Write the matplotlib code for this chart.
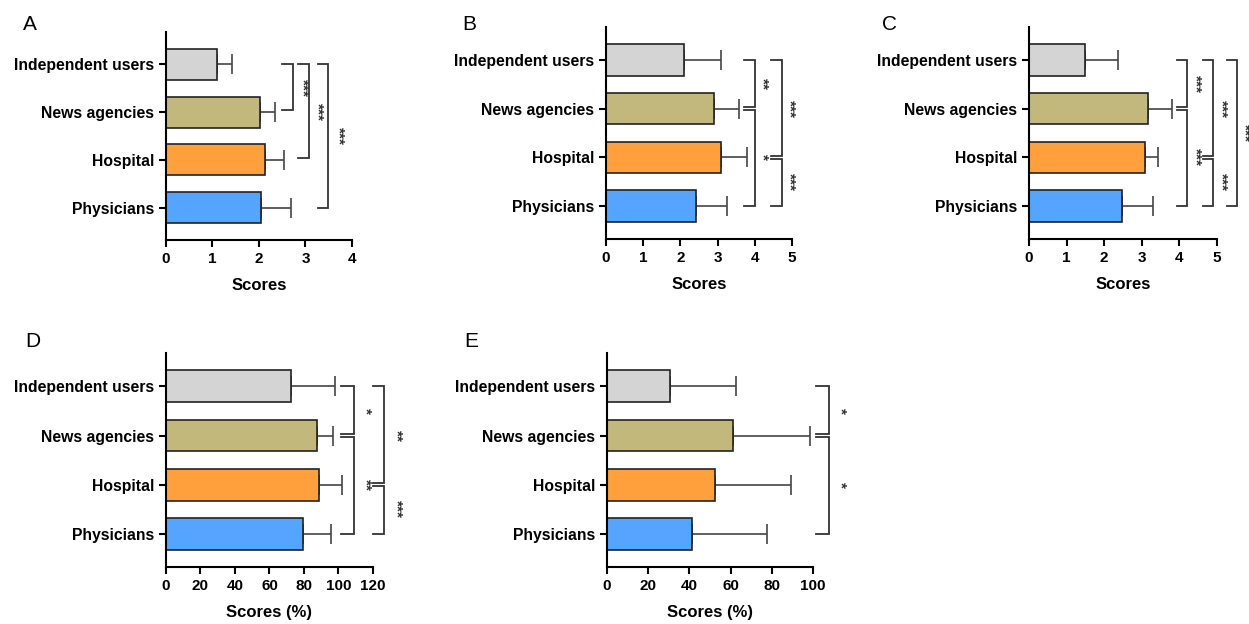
"""Five-panel horizontal bar chart of scores by source, with significance brackets."""

import matplotlib.pyplot as plt
import numpy as np

plt.rcParams["font.family"] = ["Liberation Sans", "DejaVu Sans"]

CATEGORIES = ["Independent users", "News agencies", "Hospital", "Physicians"]
COLORS = ["#d4d4d4", "#c2b87c", "#ffa03c", "#55a4ff"]

# means and (upper) error lengths
A_MEAN = [1.10, 2.02, 2.14, 2.04]
A_ERR = [0.33, 0.32, 0.40, 0.65]
B_MEAN = [2.10, 2.91, 3.08, 2.43]
B_ERR = [1.00, 0.66, 0.71, 0.83]
C_MEAN = [1.49, 3.16, 3.08, 2.48]
C_ERR = [0.88, 0.65, 0.36, 0.83]
D_MEAN = [72.4, 87.8, 88.8, 79.5]
D_ERR = [25.8, 9.1, 13.3, 16.0]
E_MEAN = [30.4, 61.2, 52.6, 41.4]
E_ERR = [32.1, 37.5, 36.6, 36.1]

# significance comparisons: (first, last, stars)
A_SIG = [(0, 1, "***"), (0, 2, "***"), (0, 3, "***")]
B_SIG = [(0, 1, "**"), (1, 3, "*"), (0, 2, "***"), (2, 3, "***")]
C_SIG = [(0, 1, "***"), (1, 3, "***"), (0, 2, "***"), (2, 3, "***"), (0, 3, "***")]
D_SIG = [(0, 1, "*"), (1, 3, "**"), (0, 2, "**"), (2, 3, "***")]
E_SIG = [(0, 1, "*"), (1, 3, "*")]

# bracket x placement per comparison: (tick start, vertical line, star text)
A_BX = [(2.49, 2.73, 2.93), (2.84, 3.08, 3.25), (3.26, 3.48, 3.70)]
B_BX = [(3.70, 4.0, 4.2), (3.70, 4.0, 4.2), (4.44, 4.74, 4.94), (4.44, 4.74, 4.94)]
C_BX = [(3.93, 4.19, 4.42), (3.93, 4.19, 4.42), (4.63, 4.9, 5.13),
        (4.63, 4.9, 5.13), (5.26, 5.54, 5.72)]
D_BX = [(101.7, 109, 115.5), (101.7, 109, 115.5), (120, 126.2, 133.5), (120, 126.2, 133.5)]
E_BX = [(101.3, 107.8, 113.5), (101.3, 107.8, 113.5)]

LINE = "#333333"


def bracket(ax, i, j, stars, bx):
    x0, x1, xt = bx
    # nudge ends apart where two brackets meet on the same bar
    y0 = i + (0.035 if i > 0 else 0)
    y1 = j - (0.035 if j < 3 else 0)
    ax.plot([x0, x1, x1, x0], [y0, y0, y1, y1], color=LINE, lw=1.3,
            clip_on=False, solid_joinstyle="miter")
    ax.text(xt, (i + j) / 2, stars, rotation=270, ha="center", va="center",
            fontsize=11, fontweight="bold", color=LINE, clip_on=False)


def panel(fig, rect, means, errs, sig, bxs, xmax, step, xlabel):
    ax = fig.add_axes(rect)
    y = np.arange(len(CATEGORIES))
    ax.barh(y, means, height=0.65, color=COLORS, edgecolor="#222222", lw=1.2,
            zorder=2)
    ax.errorbar(means, y, xerr=[np.zeros(len(errs)), errs], fmt="none",
                ecolor="#444444", elinewidth=1.2, capsize=7, capthick=1.2, zorder=1)
    for (i, j, stars), bx in zip(sig, bxs):
        bracket(ax, i, j, stars, bx)

    ax.set_ylim(3.68, -0.68)
    ax.set_xlim(0, xmax)
    ax.set_yticks(y, CATEGORIES, fontsize=11.3, fontweight="bold")
    ax.set_xticks(np.arange(0, xmax + step / 2, step))
    ax.tick_params(axis="x", labelsize=11, width=1.5, length=5)
    ax.tick_params(axis="y", width=1.5, length=5)
    for lab in ax.get_xticklabels():
        lab.set_fontweight("bold")
    ax.set_xlabel(xlabel, fontsize=12, fontweight="bold", labelpad=9)
    for s in ("top", "right"):
        ax.spines[s].set_visible(False)
    for s in ("left", "bottom"):
        ax.spines[s].set_linewidth(1.5)
    return ax


def main():
    fig = plt.figure(figsize=(12.49, 6.24), dpi=100)

    panel(fig, [0.1329, 0.6154, 0.1489, 0.3333], A_MEAN, A_ERR, A_SIG, A_BX,
          4, 1, "Scores")
    panel(fig, [0.4852, 0.6170, 0.1489, 0.3397], B_MEAN, B_ERR, B_SIG, B_BX,
          5, 1, "Scores")
    panel(fig, [0.8239, 0.6170, 0.1505, 0.3397], C_MEAN, C_ERR, C_SIG, C_BX,
          5, 1, "Scores")
    panel(fig, [0.1329, 0.0913, 0.1657, 0.3429], D_MEAN, D_ERR, D_SIG, D_BX,
          120, 20, "Scores (%)")
    panel(fig, [0.4860, 0.0913, 0.1649, 0.3429], E_MEAN, E_ERR, E_SIG, E_BX,
          100, 20, "Scores (%)")

    for letter, x, y in [("A", 0.018, 0.961), ("B", 0.370, 0.961), ("C", 0.706, 0.961),
                         ("D", 0.020, 0.452), ("E", 0.372, 0.452)]:
        fig.text(x, y, letter, fontsize=15, ha="left", va="center")

    fig.savefig("out.png", dpi=100)


if __name__ == "__main__":
    main()
